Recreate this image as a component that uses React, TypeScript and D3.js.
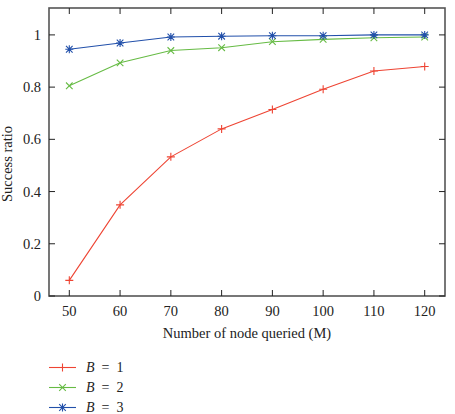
import React from "react";
import * as d3 from "d3";

// Number of nodes queried (M)
const nodesQueried = [50, 60, 70, 80, 90, 100, 110, 120];

// Success ratio per bucket setting B
const successB1 = [0.06, 0.349, 0.533, 0.64, 0.714, 0.792, 0.862, 0.879];
const successB2 = [0.805, 0.893, 0.94, 0.951, 0.974, 0.983, 0.989, 0.992];
const successB3 = [0.945, 0.969, 0.992, 0.995, 0.997, 0.997, 1.0, 1.0];

const xTicks = [50, 60, 70, 80, 90, 100, 110, 120];
const yTicks = [0, 0.2, 0.4, 0.6, 0.8, 1];
const seriesLabels = ["1", "2", "3"];

type Marker = "plus" | "cross" | "star";

const series = [
  { label: seriesLabels[0], values: successB1, color: "#ee4433", marker: "plus" as Marker },
  { label: seriesLabels[1], values: successB2, color: "#66bb44", marker: "cross" as Marker },
  { label: seriesLabels[2], values: successB3, color: "#2250aa", marker: "star" as Marker },
];

const W = 455;
const H = 414;
const left = 49;
const right = 445;
const top = 8;
const bottom = 296;
const font = "'Liberation Serif', 'Times New Roman', 'DejaVu Serif', serif";
const axisColor = "#555";
const textStyle = { fontFamily: font, fontSize: 14.5, fill: "#222" };
const legendStyle = { fontFamily: font, fontSize: 14, fill: "#222" };

function markerPath(kind: Marker, cx: number, cy: number): string {
  const p = 4;
  const c = 3.3;
  const plus = `M${cx - p},${cy}H${cx + p}M${cx},${cy - p}V${cy + p}`;
  const cross = `M${cx - c},${cy - c}L${cx + c},${cy + c}M${cx - c},${cy + c}L${cx + c},${cy - c}`;
  if (kind === "plus") return plus;
  if (kind === "cross") return cross;
  return plus + cross;
}

export default function App() {
  const x = d3.scaleLinear().domain([46, 124]).range([left, right]);
  const y = d3.scaleLinear().domain([0, 1.103]).range([bottom, top]);
  const line = d3
    .line<number>()
    .x((_, i) => x(nodesQueried[i]))
    .y((d) => y(d));

  const tickLen = 6;

  return (
    <svg
      width={W}
      height={H}
      style={{ position: "absolute", left: 0, top: 0, background: "#fff" }}
    >
      {/* frame */}
      <rect
        x={left}
        y={top}
        width={right - left}
        height={bottom - top}
        fill="none"
        stroke={axisColor}
        strokeWidth={1.6}
      />
      {/* x ticks, mirrored on top */}
      {xTicks.map((t) => (
        <g key={"x" + t}>
          <line x1={x(t)} x2={x(t)} y1={bottom} y2={bottom - tickLen} stroke="#222" strokeWidth={1} />
          <line x1={x(t)} x2={x(t)} y1={top} y2={top + tickLen} stroke="#222" strokeWidth={1} />
          <text x={x(t)} y={bottom + 20} textAnchor="middle" style={textStyle}>
            {t}
          </text>
        </g>
      ))}
      {/* y ticks, mirrored on right */}
      {yTicks.map((t) => (
        <g key={"y" + t}>
          <line x1={left} x2={left + tickLen} y1={y(t)} y2={y(t)} stroke="#222" strokeWidth={1} />
          <line x1={right} x2={right - tickLen} y1={y(t)} y2={y(t)} stroke="#222" strokeWidth={1} />
          <text x={left - 8} y={y(t) + 5} textAnchor="end" style={textStyle}>
            {t}
          </text>
        </g>
      ))}
      {/* axis titles */}
      <text x={(left + right) / 2} y={338} textAnchor="middle" style={textStyle}>
        Number of node queried (M)
      </text>
      <text
        transform={`translate(12, ${(top + bottom) / 2 + 12}) rotate(-90)`}
        textAnchor="middle"
        style={textStyle}
      >
        Success ratio
      </text>
      {/* series */}
      {series.map((s) => (
        <g key={s.label}>
          <path d={line(s.values) || ""} fill="none" stroke={s.color} strokeWidth={1.1} />
          {s.values.map((v, i) => (
            <path
              key={i}
              d={markerPath(s.marker, x(nodesQueried[i]), y(v))}
              stroke={s.color}
              strokeWidth={1.1}
              fill="none"
            />
          ))}
        </g>
      ))}
      {/* legend */}
      {series.map((s, i) => {
        const ly = 367.5 + i * 20;
        return (
          <g key={"lg" + s.label}>
            <line x1={49} x2={76} y1={ly} y2={ly} stroke={s.color} strokeWidth={1.1} />
            <path d={markerPath(s.marker, 62.5, ly)} stroke={s.color} strokeWidth={1.1} fill="none" />
            <text x={86} y={ly + 4.5} style={legendStyle}>
              <tspan fontStyle="italic">B</tspan>
              <tspan>{"\u2002=\u2002" + s.label}</tspan>
            </text>
          </g>
        );
      })}
    </svg>
  );
}
